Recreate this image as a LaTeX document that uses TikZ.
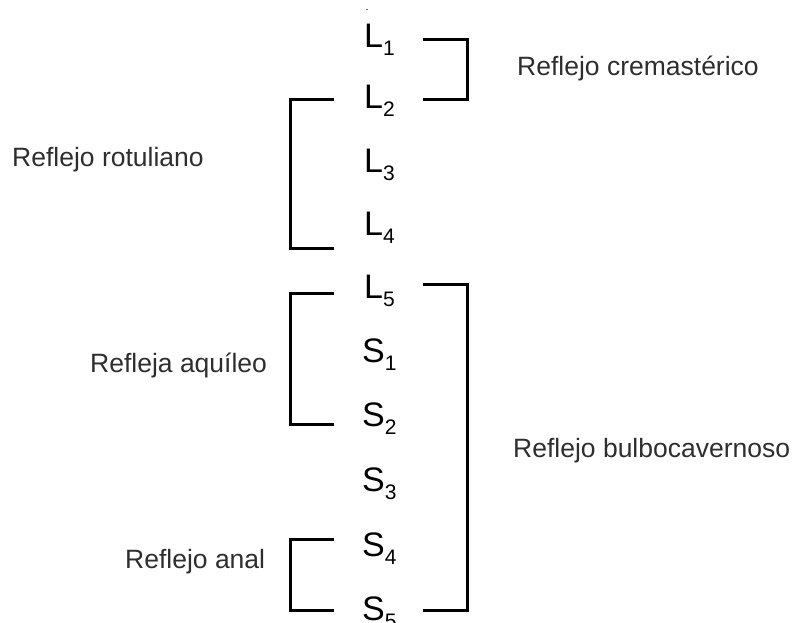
\documentclass[tikz,border=0pt]{standalone}
\usepackage{fontspec}
\setmainfont{Liberation Sans}
\definecolor{labgray}{HTML}{2E2E2E}
\newcommand{\segm}[2]{\fontsize{34}{34}\selectfont #1\raisebox{-8pt}{\fontsize{21}{21}\selectfont #2}}
\begin{document}
\begin{tikzpicture}[x=1pt,y=-1pt,
  seg/.style={anchor=base west,inner sep=0pt,text=black},
  lab/.style={anchor=base west,inner sep=0pt,text=labgray,font=\fontsize{26.5}{26.5}\selectfont},
  br/.style={draw=black,line width=3pt,line join=miter,line cap=butt}]
\useasboundingbox (0,0) rectangle (797,622);
% segments
\node[seg] (L1) at (364,47) {\segm{L}{1}};
\node[seg] (L2) at (364,108) {\segm{L}{2}};
\node[seg] (L3) at (364,172) {\segm{L}{3}};
\node[seg] (L4) at (364,235) {\segm{L}{4}};
\node[seg] (L5) at (364,298) {\segm{L}{5}};
\node[seg] (S1) at (362,362) {\segm{S}{1}};
\node[seg] (S2) at (362,426) {\segm{S}{2}};
\node[seg] (S3) at (362,491) {\segm{S}{3}};
\node[seg] (S4) at (362,556) {\segm{S}{4}};
\node[seg] (S5) at (362,620) {\segm{S}{5}};
% labels
\node[lab] (rot) at (12,166) {Reflejo rotuliano};
\node[lab] (cre) at (517,75) {Reflejo cremastérico};
\node[lab] (aqu) at (90,372) {Refleja aquíleo};
\node[lab] (bul) at (513,457) {Reflejo bulbocavernoso};
\node[lab] (ana) at (125,568) {Reflejo anal};
% bracket ends
\coordinate (creA) at (423,39);  \coordinate (creB) at (423,99);
\coordinate (rotA) at (334,99);  \coordinate (rotB) at (334,248);
\coordinate (aquA) at (334,293); \coordinate (aquB) at (334,424);
\coordinate (bulA) at (423,284); \coordinate (bulB) at (423,610);
\coordinate (anaA) at (334,539); \coordinate (anaB) at (334,610);
% brackets
\draw[br] (creA) -- ++(44,0) |- (creB);
\draw[br] (rotA) -- ++(-44,0) |- (rotB);
\draw[br] (aquA) -- ++(-44,0) |- (aquB);
\draw[br] (bulA) -- ++(44,0) |- (bulB);
\draw[br] (anaA) -- ++(-44,0) |- (anaB);
% small mark at top
\coordinate (mk) at (366,9);
\fill[black!60] (mk) rectangle ++(2,1);
\end{tikzpicture}
\end{document}
